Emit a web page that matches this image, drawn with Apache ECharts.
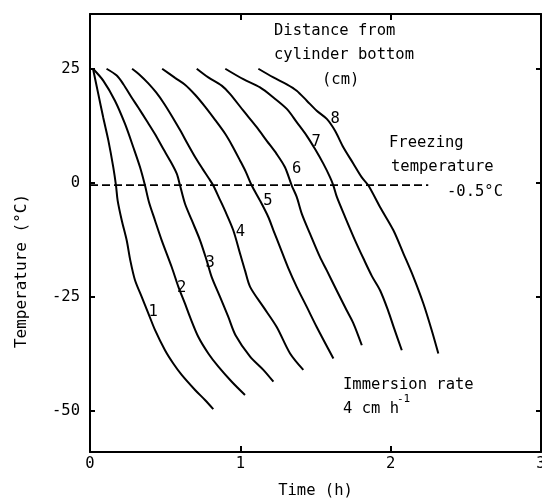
<!DOCTYPE html>
<html>
<head>
<meta charset="utf-8">
<script src="https://cdn.jsdelivr.net/npm/echarts@6/dist/echarts.min.js"></script>
<style>
  html, body { margin: 0; padding: 0; background: #fff; }
  #chart { width: 542px; height: 504px; }
</style>
</head>
<body>
<div id="chart"></div>
<script>
// Temperature histories (time h, temperature °C) at each distance from the cylinder bottom (cm)
const curve1 = [[0.02,25],[0.055,19.5],[0.088,14.3],[0.122,9.3],[0.155,3.4],[0.173,-0.6],[0.184,-3.9],[0.211,-8.2],[0.244,-12.6],[0.268,-17.0],[0.299,-21.3],[0.344,-25.0],[0.388,-28.6],[0.433,-32.3],[0.499,-36.7],[0.554,-39.6],[0.610,-42.1],[0.699,-45.4],[0.765,-47.6],[0.820,-49.6]];
const curve2 = [[0.02,25],[0.088,22.4],[0.166,18.0],[0.233,12.9],[0.288,7.8],[0.333,3.4],[0.366,-0.6],[0.392,-4.2],[0.432,-8.2],[0.477,-12.6],[0.544,-18.5],[0.588,-22.8],[0.632,-26.5],[0.665,-29.4],[0.721,-33.8],[0.787,-37.4],[0.854,-40.3],[0.943,-43.6],[1.031,-46.5]];
const curve3 = [[0.11,25],[0.178,23.5],[0.222,21.6],[0.277,18.7],[0.321,16.5],[0.377,13.6],[0.432,10.7],[0.488,7.4],[0.532,4.9],[0.577,2.0],[0.599,-0.6],[0.632,-4.6],[0.677,-8.2],[0.732,-12.6],[0.776,-17.0],[0.809,-20.6],[0.865,-25.0],[0.920,-29.4],[0.968,-33.4],[1.065,-38.1],[1.153,-41.0],[1.220,-43.6]];
const curve4 = [[0.28,25],[0.333,23.6],[0.388,21.8],[0.44,19.8],[0.49,17.5],[0.545,14.6],[0.60,11.5],[0.65,8.5],[0.70,5.6],[0.75,3.0],[0.79,1.0],[0.82,-0.6],[0.86,-3.4],[0.898,-6.1],[0.953,-10.4],[0.998,-15.5],[1.031,-19.2],[1.065,-22.8],[1.153,-27.2],[1.242,-31.6],[1.331,-37.4],[1.419,-41.0]];
const curve5 = [[0.48,25],[0.566,23.0],[0.632,21.5],[0.699,19.3],[0.765,16.7],[0.832,13.8],[0.898,10.8],[0.945,8.2],[0.998,4.9],[1.038,2.3],[1.076,-0.6],[1.131,-3.9],[1.186,-7.5],[1.220,-10.4],[1.264,-14.1],[1.319,-18.7],[1.375,-22.8],[1.442,-27.2],[1.508,-31.6],[1.619,-38.5]];
const curve6 = [[0.71,25],[0.787,23.1],[0.876,21.3],[0.931,19.5],[1.020,15.8],[1.109,12.2],[1.176,9.2],[1.242,6.3],[1.297,3.4],[1.342,-0.6],[1.375,-3.1],[1.409,-6.8],[1.464,-11.2],[1.530,-16.3],[1.575,-19.2],[1.641,-23.6],[1.708,-28.0],[1.752,-30.8],[1.808,-35.6]];
const curve7 = [[0.90,25],[1.020,22.7],[1.131,20.9],[1.220,18.7],[1.309,16.2],[1.375,13.3],[1.442,10.3],[1.497,7.4],[1.552,4.2],[1.597,1.2],[1.619,-0.6],[1.642,-3.1],[1.697,-7.5],[1.763,-12.6],[1.819,-16.6],[1.876,-20.5],[1.930,-23.6],[1.983,-28.0],[2.023,-31.9],[2.074,-36.7]];
const curve8 = [[1.12,25],[1.220,23.1],[1.309,21.6],[1.375,20.2],[1.442,18.0],[1.508,15.8],[1.575,14.0],[1.630,11.4],[1.685,7.8],[1.752,4.2],[1.808,1.2],[1.852,-0.6],[1.929,-5.3],[2.018,-10.4],[2.085,-15.5],[2.151,-20.6],[2.218,-26.5],[2.273,-32.3],[2.317,-37.4]];

const curves = [curve1, curve2, curve3, curve4, curve5, curve6, curve7, curve8];
const distanceNames = ['1', '2', '3', '4', '5', '6', '7', '8'];
// where each distance number sits beside its curve
const distanceLabelAt = [[0.42,-28.3],[0.61,-23.1],[0.80,-17.6],[1.00,-10.8],[1.184,-3.9],[1.375,3.1],[1.504,8.9],[1.63,14.0]];

// freezing temperature and the span of its dashed reference line
const freezingTemp = -0.5;
const freezingSpan = [0, 2.25];

const xTicks = [0, 1, 2, 3];
const yTicks = [-50, -25, 0, 25];

const FONT = 'DejaVu Sans Mono';
const FS = 15.5;

const chart = echarts.init(document.getElementById('chart'), null, { renderer: 'canvas' });

const series = curves.map((c, i) => ({
  type: 'line',
  name: distanceNames[i],
  data: c,
  xAxisIndex: 0,
  yAxisIndex: 0,
  showSymbol: false,
  smooth: 0.3,
  lineStyle: { color: '#000', width: 2 },
  silent: true,
  z: 3
}));

series.push({
  type: 'line',
  data: freezingSpan.map(t => [t, freezingTemp]),
  showSymbol: false,
  lineStyle: { color: '#000', width: 1.6, type: [8, 4] },
  silent: true,
  z: 2
});

series.push({
  type: 'scatter',
  data: distanceLabelAt.map((p, i) => ({ value: p, name: distanceNames[i] })),
  symbolSize: 0,
  itemStyle: { color: '#000', opacity: 1 },
  label: {
    show: true,
    position: 'inside',
    formatter: p => p.name,
    fontFamily: FONT,
    fontSize: FS,
    color: '#000',
    opacity: 1,
    textBorderWidth: 0
  },
  silent: true,
  z: 4
});

const axisLine = { show: true, onZero: false, lineStyle: { color: '#000', width: 2 } };

chart.setOption({
  backgroundColor: '#fff',
  animation: false,
  grid: { left: 90, right: 1, top: 14, bottom: 52, containLabel: false, outerBoundsMode: 'none' },
  xAxis: [
    {
      type: 'value', min: 0, max: 3, interval: 1, position: 'bottom',
      axisLine: axisLine,
      axisTick: { show: true, inside: true, length: 6, lineStyle: { color: '#000', width: 2 } },
      axisLabel: { margin: 4, fontFamily: FONT, fontSize: FS, color: '#000', customValues: xTicks },
      splitLine: { show: false },
      name: 'Time (h)', nameLocation: 'middle', nameGap: 31,
      nameTextStyle: { fontFamily: FONT, fontSize: FS, color: '#000' }
    },
    {
      type: 'value', min: 0, max: 3, interval: 1, position: 'top',
      axisLine: axisLine,
      axisTick: { show: true, inside: true, length: 6, lineStyle: { color: '#000', width: 2 } },
      axisLabel: { show: false },
      splitLine: { show: false }
    }
  ],
  yAxis: [
    {
      type: 'value', min: -59, max: 37, position: 'left',
      axisLine: axisLine,
      axisTick: { show: true, inside: true, length: 5, customValues: yTicks, lineStyle: { color: '#000', width: 2 } },
      axisLabel: { margin: 10, fontFamily: FONT, fontSize: FS, color: '#000', customValues: yTicks },
      splitLine: { show: false }
    },
    {
      type: 'value', min: -59, max: 37, position: 'right',
      axisLine: axisLine,
      axisTick: { show: true, inside: true, length: 5, customValues: yTicks, lineStyle: { color: '#000', width: 2 } },
      axisLabel: { show: false },
      splitLine: { show: false }
    }
  ],
  graphic: [
    {
      type: 'text', x: 22, y: 271, rotation: Math.PI / 2,
      style: { text: 'Temperature (°C)', font: '16px ' + FONT, fill: '#000', align: 'center', verticalAlign: 'middle' }
    },
    {
      type: 'text', x: 274, y: 31,
      style: { text: 'Distance from', font: FS + 'px ' + FONT, fill: '#000', align: 'left', verticalAlign: 'middle' }
    },
    {
      type: 'text', x: 274, y: 55,
      style: { text: 'cylinder bottom', font: FS + 'px ' + FONT, fill: '#000', align: 'left', verticalAlign: 'middle' }
    },
    {
      type: 'text', x: 322, y: 80,
      style: { text: '(cm)', font: FS + 'px ' + FONT, fill: '#000', align: 'left', verticalAlign: 'middle' }
    },
    {
      type: 'text', x: 389, y: 143,
      style: { text: 'Freezing', font: FS + 'px ' + FONT, fill: '#000', align: 'left', verticalAlign: 'middle' }
    },
    {
      type: 'text', x: 391, y: 167,
      style: { text: 'temperature', font: FS + 'px ' + FONT, fill: '#000', align: 'left', verticalAlign: 'middle' }
    },
    {
      type: 'text', x: 447, y: 192,
      style: { text: '-0.5°C', font: FS + 'px ' + FONT, fill: '#000', align: 'left', verticalAlign: 'middle' }
    },
    {
      type: 'text', x: 343, y: 385,
      style: { text: 'Immersion rate', font: FS + 'px ' + FONT, fill: '#000', align: 'left', verticalAlign: 'middle' }
    },
    {
      type: 'text', x: 343, y: 409,
      style: { text: '4 cm h', font: FS + 'px ' + FONT, fill: '#000', align: 'left', verticalAlign: 'middle' }
    },
    {
      type: 'text', x: 397, y: 399,
      style: { text: '-1', font: '11px ' + FONT, fill: '#000', align: 'left', verticalAlign: 'middle' }
    }
  ],
  series: series
});
</script>
</body>
</html>
